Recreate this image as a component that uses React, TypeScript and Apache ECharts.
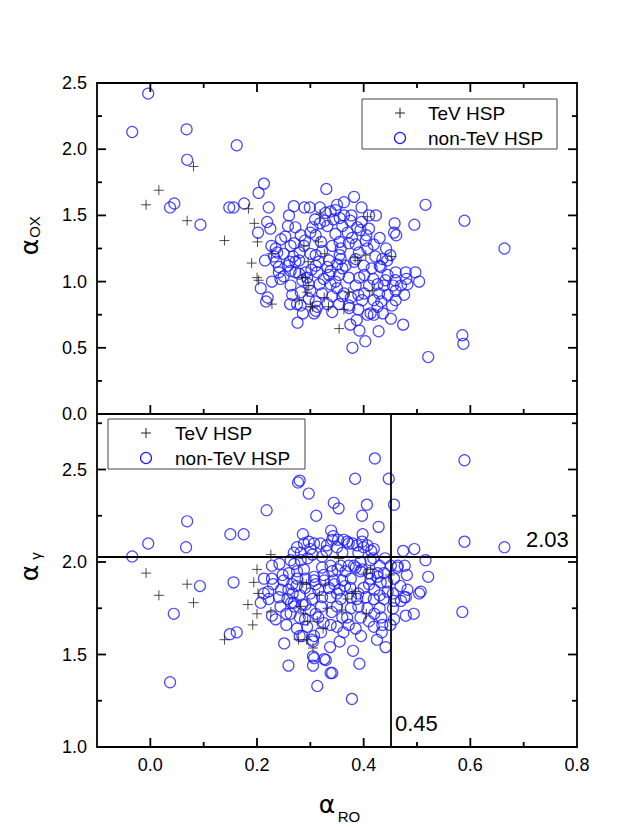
import React, { useEffect, useRef } from "react";
import * as echarts from "echarts";

// ---------- tick values ----------
const xTickValues = [-0.1, 0, 0.1, 0.2, 0.3, 0.4, 0.5, 0.6, 0.7, 0.8];
const xMajor = [0, 0.2, 0.4, 0.6, 0.8];
const yTopTicks = [0, 0.25, 0.5, 0.75, 1, 1.25, 1.5, 1.75, 2, 2.25, 2.5];
const yTopMajor = [0, 0.5, 1, 1.5, 2, 2.5];
const yBotTicks = [1, 1.25, 1.5, 1.75, 2, 2.25, 2.5, 2.75];
const yBotMajor = [1, 1.5, 2, 2.5];

const seriesNames = ["TeV HSP", "non-TeV HSP"];
const refX = 0.45;
const refY = 2.03;
const refXLabel = "0.45";
const refYLabel = "2.03";

// ---------- data: [alpha_RO, alpha_OX] ----------
const topTeV = [
  [-0.008, 1.58], [0.016, 1.69], [0.081, 1.87], [0.069, 1.46], [0.139, 1.31], [0.184, 1.55],
  [0.195, 1.44], [0.201, 1.3], [0.19, 1.14], [0.2, 1.03], [0.203, 1.01], [0.227, 1.21],
  [0.228, 0.83], [0.288, 1.27], [0.315, 1.3], [0.318, 1.51], [0.327, 1.21], [0.296, 1.15],
  [0.285, 1.03], [0.291, 1.03], [0.297, 0.97], [0.294, 0.92], [0.279, 0.86], [0.3, 0.81],
  [0.304, 0.81], [0.326, 0.88], [0.334, 0.81], [0.363, 0.79], [0.354, 0.645], [0.372, 0.92],
  [0.416, 0.93], [0.384, 1.18], [0.389, 1.16], [0.404, 1.2], [0.452, 1.19], [0.407, 1.49],
];

const topNonTeV = [
  [-0.004, 2.42], [-0.034, 2.13], [0.068, 2.15], [0.162, 2.03], [0.069, 1.92], [0.037, 1.56],
  [0.045, 1.59], [0.094, 1.43], [0.213, 1.74], [0.203, 1.67], [0.148, 1.56], [0.156, 1.56],
  [0.176, 1.59], [0.222, 1.56], [0.219, 1.45], [0.225, 1.4], [0.202, 1.37], [0.33, 1.7],
  [0.516, 1.58], [0.589, 1.46], [0.664, 1.25], [0.495, 1.43], [0.458, 1.44], [0.461, 1.35],
  [0.457, 1.37], [0.504, 1.0], [0.479, 1.07], [0.474, 0.675], [0.585, 0.595], [0.587, 0.53],
  [0.521, 0.43], [0.403, 0.55], [0.379, 0.5], [0.392, 0.63], [0.428, 0.625], [0.276, 0.69],
  [0.451, 0.72], [0.387, 0.71], [0.375, 0.675], [0.207, 0.95], [0.217, 0.85], [0.228, 1.0],
  [0.215, 1.16],
  [0.382, 1.64], [0.363, 1.6], [0.396, 1.56], [0.423, 1.5], [0.269, 1.57], [0.289, 1.56],
  [0.299, 1.56], [0.26, 1.5], [0.258, 1.42], [0.272, 1.41], [0.309, 1.47], [0.329, 1.52],
  [0.338, 1.53], [0.347, 1.54], [0.363, 1.5], [0.377, 1.5], [0.396, 1.45], [0.41, 1.5],
  [0.394, 1.39], [0.404, 1.31], [0.419, 1.28], [0.347, 1.36], [0.332, 1.42], [0.31, 1.35],
  [0.304, 1.41], [0.282, 1.35], [0.245, 1.32], [0.253, 1.34], [0.235, 1.25], [0.227, 1.27],
  [0.25, 1.21], [0.263, 1.27], [0.288, 1.27], [0.3, 1.21], [0.322, 1.23], [0.341, 1.27],
  [0.357, 1.25], [0.372, 1.29], [0.391, 1.22], [0.407, 1.25], [0.422, 1.19], [0.435, 1.17],
  [0.444, 1.16], [0.272, 1.15], [0.335, 1.16], [0.366, 1.12], [0.31, 1.12], [0.46, 1.07],
  [0.497, 1.07], [0.272, 1.07], [0.291, 1.07], [0.338, 1.08], [0.241, 1.07], [0.43, 1.12],
  [0.318, 1.44], [0.327, 1.46], [0.343, 1.47], [0.355, 1.48], [0.375, 1.46], [0.388, 1.41],
  [0.37, 1.37], [0.378, 1.33], [0.355, 1.3], [0.32, 1.3], [0.29, 1.31], [0.27, 1.29],
  [0.232, 1.19], [0.238, 1.22], [0.41, 1.4], [0.43, 1.33], [0.442, 1.25], [0.45, 1.2],
  [0.385, 1.17], [0.4, 1.12], [0.415, 1.1], [0.355, 1.2], [0.31, 1.2], [0.28, 1.22],
  [0.25, 1.04], [0.263, 0.97], [0.262, 0.83], [0.282, 0.82], [0.297, 0.87], [0.307, 0.76],
  [0.31, 0.78], [0.317, 0.98], [0.335, 1.05], [0.338, 0.98], [0.322, 0.91], [0.341, 0.89],
  [0.354, 1.05], [0.36, 0.89], [0.372, 1.03], [0.385, 0.97], [0.401, 0.91], [0.41, 0.97],
  [0.429, 0.91], [0.433, 0.85], [0.426, 0.81], [0.413, 0.76], [0.419, 0.75], [0.436, 0.76],
  [0.453, 0.82], [0.46, 0.93], [0.459, 1.01], [0.48, 1.02], [0.372, 0.82], [0.373, 0.8],
  [0.363, 0.91], [0.354, 0.83], [0.31, 0.85], [0.297, 0.98], [0.285, 1.01], [0.438, 0.97],
  [0.241, 1.11], [0.261, 1.15], [0.279, 1.16], [0.316, 1.15], [0.357, 1.17], [0.382, 1.15],
  [0.432, 1.11], [0.263, 1.08], [0.279, 1.06], [0.294, 1.03], [0.313, 1.07], [0.332, 1.11],
  [0.401, 1.05], [0.426, 0.98], [0.441, 1.01], [0.419, 0.86], [0.397, 0.86], [0.376, 0.88],
  [0.332, 0.83], [0.313, 0.81], [0.275, 0.83], [0.282, 0.92], [0.244, 1.02], [0.341, 0.77],
  [0.407, 0.75], [0.46, 0.86], [0.476, 0.9], [0.482, 0.98], [0.22, 0.88], [0.286, 0.76],
  [0.266, 0.9], [0.35, 0.95], [0.39, 0.9], [0.445, 0.9],
  [0.236, 1.15], [0.258, 1.12], [0.302, 1.09], [0.325, 1.02], [0.347, 1.0], [0.392, 1.03],
  [0.418, 1.02], [0.445, 1.05], [0.47, 0.97], [0.455, 0.97], [0.39, 0.79], [0.3, 0.93],
  [0.268, 1.19], [0.3, 1.37], [0.36, 1.42], [0.405, 1.35], [0.385, 1.28], [0.318, 1.56],
  [0.35, 1.58], [0.36, 1.1], [0.35, 1.13],
];

// ---------- data: [alpha_RO, alpha_gamma] ----------
const bottomTeV = [
  [-0.008, 1.94], [0.016, 1.82], [0.069, 1.88], [0.081, 1.78], [0.139, 1.58], [0.183, 1.77],
  [0.192, 1.66], [0.194, 1.89], [0.2, 1.96], [0.2, 1.72], [0.202, 1.83], [0.226, 2.04],
  [0.226, 1.73], [0.286, 1.89], [0.293, 1.88], [0.282, 1.76], [0.287, 1.72], [0.295, 1.68],
  [0.278, 1.58], [0.293, 1.58], [0.305, 1.535], [0.313, 1.68], [0.324, 1.64], [0.328, 1.88],
  [0.332, 1.75], [0.353, 2.02], [0.359, 1.74], [0.37, 1.8], [0.378, 1.83], [0.385, 1.84],
  [0.405, 1.94], [0.405, 1.72], [0.449, 1.93], [0.413, 1.96], [0.317, 1.82],
];

const bottomNonTeV = [
  [-0.034, 2.03], [-0.004, 2.1], [0.067, 2.08], [0.069, 2.22], [0.15, 2.15], [0.175, 2.15],
  [0.218, 2.28], [0.093, 1.87], [0.156, 1.89], [0.044, 1.72], [0.037, 1.35], [0.149, 1.61],
  [0.162, 1.62], [0.421, 2.56], [0.589, 2.55], [0.277, 2.43], [0.28, 2.44], [0.297, 2.37],
  [0.384, 2.45], [0.447, 2.45], [0.344, 2.32], [0.353, 2.29], [0.311, 2.25], [0.406, 2.31],
  [0.397, 2.25], [0.457, 2.31], [0.428, 2.19], [0.286, 2.15], [0.339, 2.17], [0.398, 2.15],
  [0.589, 2.11], [0.664, 2.08], [0.474, 2.06], [0.495, 2.07], [0.516, 2.01], [0.521, 1.92],
  [0.504, 1.83], [0.477, 1.98], [0.476, 1.81], [0.494, 1.72], [0.479, 1.71], [0.585, 1.73],
  [0.457, 1.69], [0.441, 1.54], [0.434, 1.62], [0.392, 1.45], [0.38, 1.52], [0.378, 1.26],
  [0.338, 1.4], [0.326, 1.475], [0.313, 1.33], [0.305, 1.44], [0.305, 1.49], [0.259, 1.44],
  [0.251, 1.56], [0.337, 1.54], [0.362, 1.62], [0.28, 1.6], [0.303, 1.58], [0.305, 1.57],
  [0.343, 2.14], [0.275, 2.08], [0.288, 2.1], [0.307, 2.1], [0.319, 2.1], [0.331, 2.09],
  [0.341, 2.12], [0.363, 2.12], [0.372, 2.1], [0.388, 2.09], [0.4, 2.08], [0.414, 2.06],
  [0.269, 2.05], [0.282, 2.05], [0.418, 2.02], [0.297, 2.11], [0.369, 2.11], [0.379, 2.1],
  [0.397, 2.11], [0.407, 2.09], [0.419, 2.07], [0.263, 2.01], [0.282, 2.01], [0.304, 2.04],
  [0.322, 2.03], [0.352, 2.12],
  [0.228, 1.98], [0.242, 1.99], [0.26, 1.94], [0.275, 1.95], [0.288, 1.96], [0.307, 1.92],
  [0.325, 1.93], [0.341, 1.95], [0.357, 1.98], [0.372, 1.98], [0.385, 1.97], [0.397, 1.96],
  [0.41, 1.94], [0.426, 1.94], [0.451, 1.98], [0.464, 1.98], [0.507, 1.84], [0.432, 1.89],
  [0.444, 1.89], [0.457, 1.91], [0.469, 1.87], [0.482, 1.85], [0.275, 1.91], [0.322, 1.97],
  [0.338, 1.98], [0.351, 1.96], [0.366, 1.95], [0.382, 1.98], [0.394, 2.0], [0.413, 2.01],
  [0.438, 1.94], [0.463, 1.97], [0.481, 1.93], [0.426, 1.92], [0.413, 1.91], [0.394, 1.95],
  [0.376, 1.91], [0.36, 1.9], [0.344, 1.9], [0.326, 1.9], [0.307, 1.9], [0.291, 1.91],
  [0.266, 1.88], [0.25, 1.9], [0.228, 1.91], [0.213, 1.91],
  [0.207, 1.78], [0.222, 1.8], [0.241, 1.81], [0.257, 1.8], [0.269, 1.78], [0.285, 1.77],
  [0.304, 1.8], [0.322, 1.81], [0.338, 1.81], [0.357, 1.8], [0.376, 1.81], [0.388, 1.8],
  [0.404, 1.81], [0.419, 1.8], [0.438, 1.8], [0.457, 1.79], [0.479, 1.81],
  [0.244, 1.76], [0.263, 1.72], [0.228, 1.71], [0.235, 1.69], [0.291, 1.77], [0.3, 1.74],
  [0.31, 1.72], [0.294, 1.65], [0.307, 1.6], [0.285, 1.6], [0.307, 1.48], [0.329, 1.47],
  [0.341, 1.4], [0.385, 1.64], [0.372, 1.66], [0.369, 1.7], [0.376, 1.75], [0.394, 1.7],
  [0.407, 1.75], [0.419, 1.65], [0.435, 1.66], [0.433, 1.7], [0.35, 1.65], [0.338, 1.66],
  [0.213, 1.83], [0.221, 1.84], [0.248, 1.93], [0.259, 1.85], [0.255, 1.72], [0.264, 1.78],
  [0.27, 1.76], [0.267, 1.83], [0.274, 1.87],
  [0.29, 1.86], [0.315, 1.85], [0.335, 1.86], [0.355, 1.85], [0.375, 1.86], [0.4, 1.86],
  [0.42, 1.85], [0.445, 1.84], [0.3, 1.83], [0.35, 1.83], [0.39, 1.83], [0.43, 1.75],
  [0.455, 1.75], [0.32, 1.76], [0.35, 1.76], [0.36, 1.7], [0.41, 1.68], [0.395, 1.6],
  [0.325, 1.67], [0.29, 1.69], [0.275, 1.64], [0.32, 1.62], [0.425, 1.58], [0.355, 1.57],
  [0.23, 1.88], [0.245, 1.85], [0.28, 1.82], [0.31, 1.88], [0.345, 1.88], [0.365, 1.87],
  [0.41, 1.88], [0.43, 1.82], [0.455, 1.83], [0.47, 1.79], [0.45, 1.66], [0.42, 1.72],
  [0.39, 1.76], [0.34, 1.73], [0.315, 1.7], [0.28, 1.7], [0.255, 1.66], [0.3, 2.07],
  [0.33, 2.06], [0.35, 2.08], [0.39, 2.05], [0.36, 2.05], [0.27, 1.99], [0.295, 2.02],
  [0.44, 2.02], [0.43, 1.98],
];

const FONT = "'Liberation Sans', Arial, sans-serif";
const GREEK = "'DejaVu Sans', sans-serif";
const BLUE = "#1a1aff";
const DARK = "#222222";
const PLUS = "path://M5,0L5,10M0,5L10,5";
const MAJOR_LEN = 9;
const MINOR_LEN = 5;

// grid geometry (pixels)
const G0 = { left: 97, top: 83, width: 480, height: 331 };
const G1 = { left: 97, top: 414, width: 480, height: 333 };

const fmt = (v: any) => Number(v).toFixed(1);
const AXIS_LINE = { color: "#000", width: 1.8 };

function xAxis(grid: number, position: string, labels: boolean) {
  return {
    type: "value",
    gridIndex: grid,
    min: -0.1,
    max: 0.8,
    interval: 0.1,
    position,
    splitLine: { show: false },
    axisLine: { show: true, onZero: false, lineStyle: { ...AXIS_LINE } },
    axisTick: { show: false },
    axisLabel: {
      show: labels,
      customValues: xMajor,
      formatter: fmt,
      fontSize: 18,
      color: "#000",
      fontFamily: FONT,
      margin: 9,
    },
  };
}

function yAxis(grid: number, position: string, min: number, max: number, major: number[], labels: boolean) {
  return {
    type: "value",
    gridIndex: grid,
    min,
    max,
    interval: 0.25,
    position,
    splitLine: { show: false },
    axisLine: { show: true, onZero: false, lineStyle: { ...AXIS_LINE } },
    axisTick: { show: false },
    axisLabel: {
      show: labels,
      customValues: major,
      formatter: fmt,
      fontSize: 18,
      color: "#000",
      fontFamily: FONT,
      margin: 10,
    },
  };
}

function legendGraphics(bx: number, by: number, bw: number, bh: number, ix: number, tx: number, y1: number, y2: number) {
  return [
    { type: "rect", shape: { x: bx, y: by, width: bw, height: bh }, style: { fill: "#fff", stroke: "#444", lineWidth: 1 }, z: 100 },
    { type: "line", shape: { x1: ix - 5, y1, x2: ix + 5, y2: y1 }, style: { stroke: DARK, lineWidth: 1 }, z: 101 },
    { type: "line", shape: { x1: ix, y1: y1 - 5, x2: ix, y2: y1 + 5 }, style: { stroke: DARK, lineWidth: 1 }, z: 101 },
    { type: "circle", shape: { cx: ix, cy: y2, r: 5.5 }, style: { fill: "none", stroke: BLUE, lineWidth: 1.2 }, z: 101 },
    { type: "text", x: tx, y: y1, style: { text: seriesNames[0], fontSize: 19, fontFamily: FONT, fill: "#000", align: "left", verticalAlign: "middle" }, z: 101 },
    { type: "text", x: tx, y: y2, style: { text: seriesNames[1], fontSize: 19, fontFamily: FONT, fill: "#000", align: "left", verticalAlign: "middle" }, z: 101 },
  ];
}

function scatter(name: string, data: number[][], xi: number, yi: number, tev: boolean, extra: any = {}) {
  return {
    type: "scatter",
    name,
    xAxisIndex: xi,
    yAxisIndex: yi,
    data,
    symbol: tev ? PLUS : "circle",
    symbolSize: tev ? 10 : 11,
    silent: true,
    emphasis: { disabled: true },
    itemStyle: tev
      ? { color: "rgba(0,0,0,0)", borderColor: DARK, borderWidth: 1 }
      : { color: "rgba(0,0,0,0)", borderColor: BLUE, borderWidth: 1.2 },
    ...extra,
  };
}

// tick marks drawn as thin rectangles (filled), like the legend marks
const tickRect = (x1: number, y1: number, x2: number, y2: number) => {
  const w = 1.8;
  const x = Math.min(x1, x2), y = Math.min(y1, y2);
  const horizontal = Math.abs(x2 - x1) > Math.abs(y2 - y1);
  return {
    type: "rect",
    z: 101,
    shape: horizontal
      ? { x, y: y - w / 2, width: Math.abs(x2 - x1), height: w }
      : { x: x - w / 2, y, width: w, height: Math.abs(y2 - y1) },
    style: { fill: "#000" },
  };
};

export default function App() {
  const ref = useRef<HTMLDivElement>(null);

  useEffect(() => {
    if (!ref.current) return;
    const chart = echarts.init(ref.current, null, { renderer: "svg" });

    const xAxes = [
      xAxis(0, "bottom", false), // 0
      xAxis(0, "top", false), // 1
      xAxis(1, "bottom", true), // 2
      xAxis(1, "top", false), // 3
    ];
    const yAxes = [
      yAxis(0, "left", 0, 2.5, yTopMajor, true), // 0
      yAxis(0, "right", 0, 2.5, yTopMajor, false), // 1
      yAxis(1, "left", 1, 2.8, yBotMajor, true), // 2
      yAxis(1, "right", 1, 2.8, yBotMajor, false), // 3
    ];

    const mapX = (g: any, v: number) => g.left + ((v + 0.1) / 0.9) * g.width;
    const mapY = (g: any, v: number, min: number, max: number) => g.top + (1 - (v - min) / (max - min)) * g.height;
    const isMajor = (list: number[], v: number) => list.some((m) => Math.abs(m - v) < 1e-9);

    const buildTicks = (px: (gi: number, v: number) => number, py: (gi: number, v: number) => number) => {
      const out: any[] = [];
      {
        const top = py(0, 2.5), bottom = py(0, 0), left = px(0, -0.1), right = px(0, 0.8);
        xTickValues.forEach((v) => {
          if (v <= -0.1 + 1e-9 || v >= 0.8 - 1e-9) return;
          const x = px(0, v);
          const len = isMajor(xMajor, v) ? MAJOR_LEN : MINOR_LEN;
          out.push(tickRect(x, bottom, x, bottom - len));
          out.push(tickRect(x, top, x, top + len));
        });
        yTopTicks.forEach((v) => {
          if (v <= 1e-9 || v >= 2.5 - 1e-9) return;
          const y = py(0, v);
          const len = isMajor(yTopMajor, v) ? MAJOR_LEN : MINOR_LEN;
          out.push(tickRect(left, y, left + len, y));
          out.push(tickRect(right, y, right - len, y));
        });
      }
      {
        const bottom = py(1, 1), left = px(1, -0.1), right = px(1, 0.8);
        xTickValues.forEach((v) => {
          if (v <= -0.1 + 1e-9 || v >= 0.8 - 1e-9) return;
          const x = px(1, v);
          const len = isMajor(xMajor, v) ? MAJOR_LEN : MINOR_LEN;
          out.push(tickRect(x, bottom, x, bottom - len));
        });
        yBotTicks.forEach((v) => {
          if (v <= 1 + 1e-9) return;
          const y = py(1, v);
          const len = isMajor(yBotMajor, v) ? MAJOR_LEN : MINOR_LEN;
          out.push(tickRect(left, y, left + len, y));
          out.push(tickRect(right, y, right - len, y));
        });
      }
      return out;
    };

    const baseGraphics: any[] = [
      ...legendGraphics(362, 99, 195, 50, 400, 428, 113, 138),
      ...legendGraphics(108, 419, 197, 50, 146, 175, 433, 458),
      { type: "text", x: 395, y: 723, style: { text: refXLabel, fontSize: 22, fontFamily: FONT, fill: "#000", align: "left", verticalAlign: "middle" } },
      { type: "text", x: 526, y: 539, style: { text: refYLabel, fontSize: 22, fontFamily: FONT, fill: "#000", align: "left", verticalAlign: "middle" } },
      { type: "text", x: 29, y: 247, rotation: Math.PI / 2, style: { text: "α", fontSize: 25, fontFamily: GREEK, fill: "#000", align: "center", verticalAlign: "middle" } },
      { type: "text", x: 34, y: 227, rotation: Math.PI / 2, style: { text: "OX", fontSize: 15, fontFamily: FONT, fill: "#000", align: "center", verticalAlign: "middle" } },
      { type: "text", x: 29, y: 573, rotation: Math.PI / 2, style: { text: "α", fontSize: 25, fontFamily: GREEK, fill: "#000", align: "center", verticalAlign: "middle" } },
      { type: "text", x: 35, y: 556, rotation: Math.PI / 2, style: { text: "γ", fontSize: 15, fontFamily: FONT, fill: "#000", align: "center", verticalAlign: "middle" } },
      { type: "text", x: 327, y: 804, style: { text: "α", fontSize: 25, fontFamily: GREEK, fill: "#000", align: "center", verticalAlign: "middle" } },
      { type: "text", x: 349, y: 816, style: { text: "RO", fontSize: 15, fontFamily: FONT, fill: "#000", align: "center", verticalAlign: "middle" } },
    ];

    const option: any = {
      animation: false,
      backgroundColor: "#fff",
      grid: [
        { ...G0, show: false },
        { ...G1, show: false },
      ],
      xAxis: xAxes,
      yAxis: yAxes,
      series: [
        scatter(seriesNames[1], topNonTeV, 0, 0, false),
        scatter(seriesNames[0], topTeV, 0, 0, true),
        scatter(seriesNames[1], bottomNonTeV, 2, 2, false, {
          markLine: {
            silent: true,
            symbol: "none",
            label: { show: false },
            lineStyle: { color: "#000", width: 1.8, type: "solid" },
            data: [{ xAxis: refX }, { yAxis: refY }],
          },
        }),
        scatter(seriesNames[0], bottomTeV, 2, 2, true),
      ],
    };

    chart.setOption(option);

    // tick positions through the axes' own scales
    let ticks: any[] = [];
    try {
      const xIdx = [0, 2];
      const yIdx = [0, 2];
      const px = (gi: number, v: number) => {
        const r: any = chart.convertToPixel({ xAxisIndex: xIdx[gi] } as any, v as any);
        const n = Array.isArray(r) ? r[0] : r;
        return Number.isFinite(n) ? n : mapX(gi === 0 ? G0 : G1, v);
      };
      const py = (gi: number, v: number) => {
        const r: any = chart.convertToPixel({ yAxisIndex: yIdx[gi] } as any, v as any);
        const n = Array.isArray(r) ? r[1] : r;
        return Number.isFinite(n) ? n : gi === 0 ? mapY(G0, v, 0, 2.5) : mapY(G1, v, 1, 2.8);
      };
      ticks = buildTicks(px, py);
    } catch (e) {
      ticks = buildTicks(
        (gi, v) => mapX(gi === 0 ? G0 : G1, v),
        (gi, v) => (gi === 0 ? mapY(G0, v, 0, 2.5) : mapY(G1, v, 1, 2.8))
      );
    }

    chart.setOption({ graphic: { elements: [...baseGraphics, ...ticks] } });

    return () => chart.dispose();
  }, []);

  return (
    <div
      ref={ref}
      style={{ position: "absolute", left: 0, top: 0, width: 642, height: 830, background: "#fff" }}
    />
  );
}
